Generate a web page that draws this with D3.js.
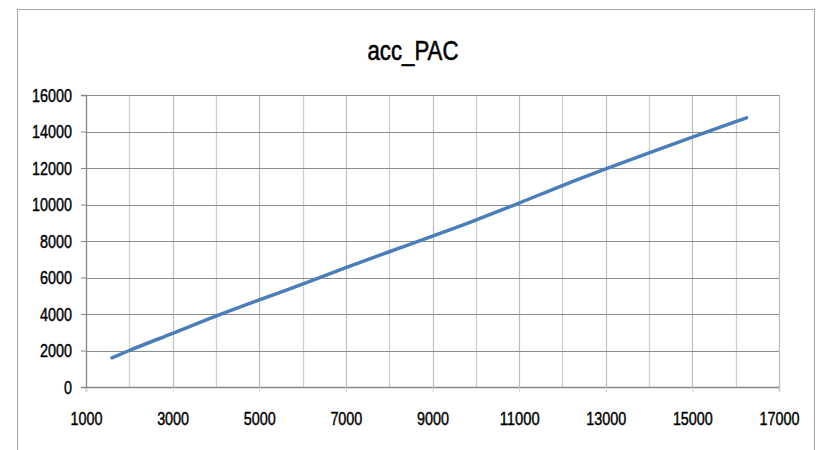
<!DOCTYPE html>
<html>
<head>
<meta charset="utf-8">
<script src="https://cdn.jsdelivr.net/npm/d3@7"></script>
<style>
  body { margin: 0; background: #fff; }
  svg { display: block; }
  .tick text { font-family: "Liberation Sans", Arial, sans-serif; font-size: 19px; fill: #000; stroke: #000; stroke-width: 0.45px; }
</style>
</head>
<body>
<svg width="816" height="450"></svg>
<script>
// chart data
var chartTitle = "acc_PAC";
var xValues = [1600, 2000, 3000, 4000, 5000, 6000, 7000, 8000, 9000, 10000, 11000, 12000, 13000, 14000, 15000, 16000, 16250];
var yValues = [1600, 2000, 2940, 3880, 4770, 5640, 6540, 7410, 8270, 9150, 10080, 11040, 11950, 12830, 13690, 14540, 14750];
var xTicks = [1000, 3000, 5000, 7000, 9000, 11000, 13000, 15000, 17000];
var xMinorTicks = [2000, 4000, 6000, 8000, 10000, 12000, 14000, 16000];
var yTicks = [0, 2000, 4000, 6000, 8000, 10000, 12000, 14000, 16000];

var svg = d3.select("svg"),
    margin = {top: 95, right: 37, bottom: 63, left: 86},
    width = 816 - margin.left - margin.right,
    height = 450 - margin.top - margin.bottom;

// outer chart frame
svg.append("rect")
    .attr("x", 17.5).attr("y", 9.5)
    .attr("width", 797).attr("height", 460)
    .attr("fill", "#fff")
    .attr("stroke", "#a6a6a6")
    .attr("stroke-width", 1);

svg.append("text")
    .attr("x", 413)
    .attr("y", 60)
    .attr("text-anchor", "middle")
    .attr("textLength", 91)
    .attr("lengthAdjust", "spacingAndGlyphs")
    .style("font-family", "'Liberation Sans', Arial, sans-serif")
    .style("font-size", "28px")
    .style("stroke", "#000")
    .style("stroke-width", "0.6px")
    .text(chartTitle);

var g = svg.append("g").attr("transform", "translate(" + margin.left + "," + margin.top + ")");

var x = d3.scaleLinear().domain([1000, 17000]).range([0, width]),
    y = d3.scaleLinear().domain([0, 16000]).range([height, 0]);

// vertical gridlines (minor lighter, major a touch darker)
g.selectAll(".vminor")
  .data(xMinorTicks)
  .enter().append("line")
    .attr("x1", function(d) { return Math.round(x(d)) + 0.5; })
    .attr("x2", function(d) { return Math.round(x(d)) + 0.5; })
    .attr("y1", 0).attr("y2", height)
    .attr("stroke", "#cfcfcf")
    .attr("stroke-width", 1.3);

g.selectAll(".vmajor")
  .data(xTicks.slice(1))
  .enter().append("line")
    .attr("x1", function(d) { return Math.round(x(d)) + 0.5; })
    .attr("x2", function(d) { return Math.round(x(d)) + 0.5; })
    .attr("y1", 0).attr("y2", height)
    .attr("stroke", "#bdbdbd")
    .attr("stroke-width", 1.2);

// horizontal gridlines
g.selectAll(".hgrid")
  .data(yTicks.slice(1))
  .enter().append("line")
    .attr("x1", 0).attr("x2", width)
    .attr("y1", function(d) { return Math.round(y(d)) + 0.5; })
    .attr("y2", function(d) { return Math.round(y(d)) + 0.5; })
    .attr("stroke", "#8c8c8c")
    .attr("stroke-width", 1.2);

var xAxis = g.append("g")
    .attr("transform", "translate(0," + height + ")")
    .call(d3.axisBottom(x).tickValues(xTicks).tickFormat(d3.format("d")).tickSize(5).tickPadding(20));

var yAxis = g.append("g")
    .call(d3.axisLeft(y).tickValues(yTicks).tickFormat(d3.format("d")).tickSize(5).tickPadding(9));

[xAxis, yAxis].forEach(function(a) {
  a.select(".domain").attr("stroke", "#868686").attr("stroke-width", 1.3);
  a.selectAll(".tick line").attr("stroke", "#868686");
  // squeeze labels to the narrow look of the original
  a.selectAll(".tick text")
      .attr("textLength", function(d) { return String(d).length * 8; })
      .attr("lengthAdjust", "spacingAndGlyphs");
});
xAxis.selectAll(".tick line").attr("stroke", "#d0d0d0");

var line = d3.line()
    .curve(d3.curveMonotoneX)
    .x(function(d, i) { return x(xValues[i]); })
    .y(function(d) { return y(d); });

g.append("path")
    .datum(yValues)
    .attr("fill", "none")
    .attr("stroke", "#4a7ebb")
    .attr("stroke-width", 3.5)
    .attr("stroke-linecap", "round")
    .attr("d", line);
</script>
</body>
</html>
